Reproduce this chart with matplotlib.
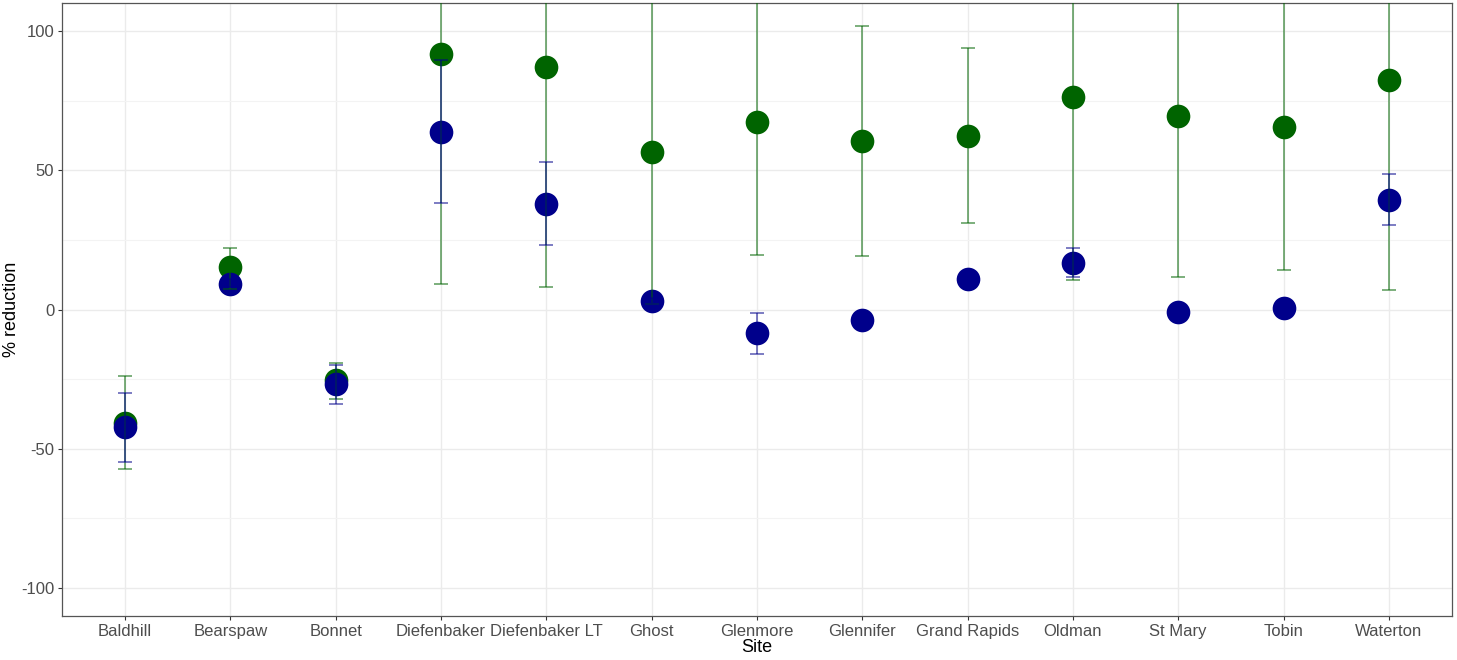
import numpy as np
import matplotlib
matplotlib.use("Agg")
from matplotlib import pyplot as plt

plt.rcParams["font.family"] = ["Liberation Sans", "DejaVu Sans"]
plt.rcParams["axes.unicode_minus"] = False

sites = ["Baldhill", "Bearspaw", "Bonnet", "Diefenbaker", "Diefenbaker LT", "Ghost",
         "Glenmore", "Glennifer", "Grand Rapids", "Oldman", "St Mary", "Tobin", "Waterton"]

# green series: estimate and interval (upper values off-panel are guesses)
green_mid = [-40.9, 15.4, -25.4, 91.8, 87.1, 56.6, 67.4, 60.6, 62.4, 76.1, 69.4, 65.4, 82.4]
green_lo = [-57.3, 7.5, -32.3, 9.0, 8.0, 1.8, 19.4, 19.2, 30.9, 10.6, 11.8, 14.3, 7.1]
green_hi = [-24.0, 22.2, -19.2, 175.0, 166.0, 111.0, 115.0, 101.7, 93.8, 142.0, 127.0, 116.0, 158.0]

# blue series
blue_mid = [-42.3, 9.3, -26.9, 63.8, 38.0, 2.9, -8.6, -3.6, 10.8, 16.7, -1.0, 0.5, 39.4]
blue_lo = [-54.8, 8.0, -34.0, 38.4, 23.3, 2.0, -15.8, -4.5, 10.0, 11.8, -2.0, 0.0, 30.5]
blue_hi = [-30.0, 11.0, -20.0, 89.5, 53.0, 4.0, -1.3, -2.5, 11.5, 21.9, 0.0, 1.0, 48.5]

green = "#006400"
blue = "#00008B"

x = np.arange(1, len(sites) + 1)

fig = plt.figure(figsize=(14.57, 6.6), dpi=100)
ax = fig.add_axes([62 / 1457, 1 - 616 / 660, 1390 / 1457, 613 / 660])

ax.set_xlim(0.4, len(sites) + 0.6)
ax.set_ylim(-110, 110)

# grid like theme_bw
ax.set_yticks([-100, -50, 0, 50, 100])
ax.set_yticks([-75, -25, 25, 75], minor=True)
ax.set_xticks(x)
ax.set_xticklabels(sites)
ax.grid(True, which="major", color="#EBEBEB", linewidth=1.0)
ax.grid(True, which="minor", axis="y", color="#F3F3F3", linewidth=0.8)
ax.set_axisbelow(True)

ax.scatter(x, green_mid, s=290, color=green, zorder=3, linewidths=0)
ax.scatter(x, blue_mid, s=290, color=blue, zorder=4, linewidths=0)

gm = np.array(green_mid)
bm = np.array(blue_mid)
ax.errorbar(x, gm, yerr=[gm - np.array(green_lo), np.array(green_hi) - gm], fmt="none",
            ecolor=green, elinewidth=1.2, capsize=5, capthick=1.2, alpha=0.6, zorder=5)
ax.errorbar(x, bm, yerr=[bm - np.array(blue_lo), np.array(blue_hi) - bm], fmt="none",
            ecolor=blue, elinewidth=1.2, capsize=5, capthick=1.2, alpha=0.6, zorder=6)

for s in ax.spines.values():
    s.set_color("#555555")
    s.set_linewidth(0.9)

ax.tick_params(which="major", length=3, color="#333333", labelsize=12, labelcolor="#4D4D4D", pad=2.5)
ax.tick_params(which="minor", length=0)

ax.set_xlabel("Site", fontsize=13)
ax.set_ylabel("% reduction", fontsize=13)
ax.xaxis.set_label_coords(0.5, -0.038)
ax.yaxis.set_label_coords(-0.030, 0.5)

fig.savefig("out.png", dpi=100)
